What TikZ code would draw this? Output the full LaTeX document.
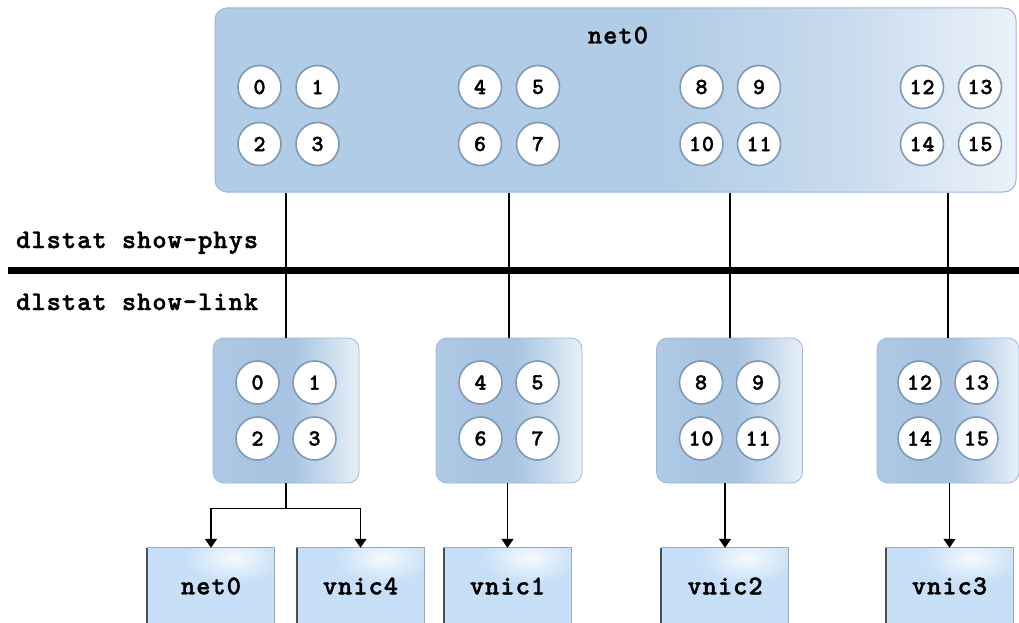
\documentclass[tikz,border=0pt]{standalone}
\usepackage{fontspec}
\usetikzlibrary{arrows.meta,fadings,calc}
\newfontfamily\codefont{lmmonolt10-bold.otf}[LetterSpace=4, FakeBold=1.5]

\definecolor{bigA}{HTML}{B1CCE6}
\definecolor{bigB}{HTML}{C8DAEE}
\definecolor{bigC}{HTML}{EBF2F9}
\definecolor{smA}{HTML}{AFCAE6}
\definecolor{smB}{HTML}{A8C4E1}
\definecolor{smC}{HTML}{C4D8EC}
\definecolor{smD}{HTML}{E8F0F8}
\definecolor{boxline}{HTML}{9DB7D5}
\definecolor{portline}{HTML}{7F98B5}
\definecolor{devfill}{HTML}{C7E0F7}
\definecolor{devline}{HTML}{9AA8B8}
\definecolor{devedge}{HTML}{4A4F55}

\pgfdeclarehorizontalshading{bigshade}{100bp}{color(0bp)=(bigA); color(25bp)=(bigA); color(53bp)=(bigA); color(64bp)=(bigB); color(75bp)=(bigC); color(100bp)=(bigC)}
\pgfdeclarehorizontalshading{smallshade}{100bp}{color(0bp)=(smA); color(25bp)=(smA); color(40bp)=(smB); color(52bp)=(smB); color(63bp)=(smC); color(75bp)=(smD); color(100bp)=(smD)}
\tikzfading[name=glow, inner color=transparent!0, outer color=transparent!100]

\begin{document}
\begin{tikzpicture}[x=1pt, y=-1pt,
  bigbox/.style={draw=boxline, line width=1pt, rounded corners=12pt, shading=bigshade,
    minimum width=801pt, minimum height=184pt, inner sep=0pt},
  smallbox/.style={draw=boxline, line width=0.8pt, rounded corners=11pt, shading=smallshade,
    minimum width=146pt, minimum height=145pt, inner sep=0pt},
  port/.style={circle, draw=portline, line width=1.6pt, fill=white, minimum size=43pt,
    inner sep=0pt, font=\codefont\fontsize{23}{23}\selectfont},
  cmdlabel/.style={font=\codefont\fontsize{27}{27}\selectfont, inner sep=0pt},
  devbox/.style={fill=devfill, minimum width=127pt, minimum height=76pt, inner sep=0pt},
  wire/.style={line width=2pt},
  feed/.style={line width=1.5pt, -{Triangle[width=12pt,length=9pt]}}
]
\useasboundingbox (0,0) rectangle (1019,623);

% physical NIC with its sixteen rings
\node[bigbox] (big) at (615.5,100) {};
\node[cmdlabel, anchor=base] (bigtitle) at (618,43.5) {net0};
\foreach \n/\x/\y in {0/259.5/87, 1/317.5/87, 2/259.5/144, 3/317.5/144,
                      4/480/87, 5/538/87, 6/480/144, 7/538/144,
                      8/701.5/87, 9/759/87, 10/701.5/144, 11/759/144,
                      12/922/87, 13/980/87, 14/922/144, 15/980/144}
  \node[port] (p\n) at (\x,\y) {\n};

% ring groups seen per link
\node[smallbox] (g1) at (286,410.5) {};
\node[smallbox] (g2) at (509,410.5) {};
\node[smallbox] (g3) at (729.5,410.5) {};
\node[smallbox, minimum width=142pt] (g4) at (948,410.5) {};
\foreach \g/\f in {g1/0, g2/4, g3/8, g4/12} {
  \pgfmathtruncatemacro\fa{\f+1}
  \pgfmathtruncatemacro\fb{\f+2}
  \pgfmathtruncatemacro\fc{\f+3}
  \node[port] (q\f) at ([shift={(-28.5,-28)}]\g.center) {\f};
  \node[port] (q\fa) at ([shift={(28.5,-28)}]\g.center) {\fa};
  \node[port] (q\fb) at ([shift={(-28.5,28)}]\g.center) {\fb};
  \node[port] (q\fc) at ([shift={(28.5,28)}]\g.center) {\fc};
}

% divider between the two statistics views
\coordinate (divL) at (8,270);
\coordinate (divR) at (1019,270);
\node[cmdlabel, anchor=base west] (phys) at (16,248) {dlstat show-phys};
\node[cmdlabel, anchor=base west] (link) at (16,310) {dlstat show-link};

\foreach \g in {g1,g2,g3,g4}
  \draw[wire] (\g.north |- big.south) -- (\g.north);
\draw[line width=7pt] (divL) -- (divR);

% data links
\foreach \d/\x/\t in {d0/211/net0, d4/360.5/vnic4, d1/507.5/vnic1, d2/725/vnic2, d3/949.5/vnic3} {
  \node[devbox] (\d) at (\x,586) {};
  \begin{scope}
    \clip (\d.north west) rectangle (\d.south east);
    \fill[white, path fading=glow, opacity=0.85] ($(\d.north)+(22,10)$) ellipse [x radius=48pt, y radius=26pt];
  \end{scope}
  \draw[devline, line width=0.8pt] (\d.south west) -- (\d.north west) -- (\d.north east) -- (\d.south east);
  \draw[devedge, line width=2pt] (\d.north west) -- (\d.south west);
  \node[cmdlabel] at (\d.center) {\t};
}

\draw[line width=1.5pt] (g1.south) -- ++(0,25) coordinate (split);
\draw[feed] (split) -| (d0.north);
\draw[feed] (split) -| (d4.north);
\draw[feed] (g2.south -| d1.north) -- (d1.north);
\draw[feed] (g3.south -| d2.north) -- (d2.north);
\draw[feed] (g4.south -| d3.north) -- (d3.north);
\end{tikzpicture}
\end{document}
